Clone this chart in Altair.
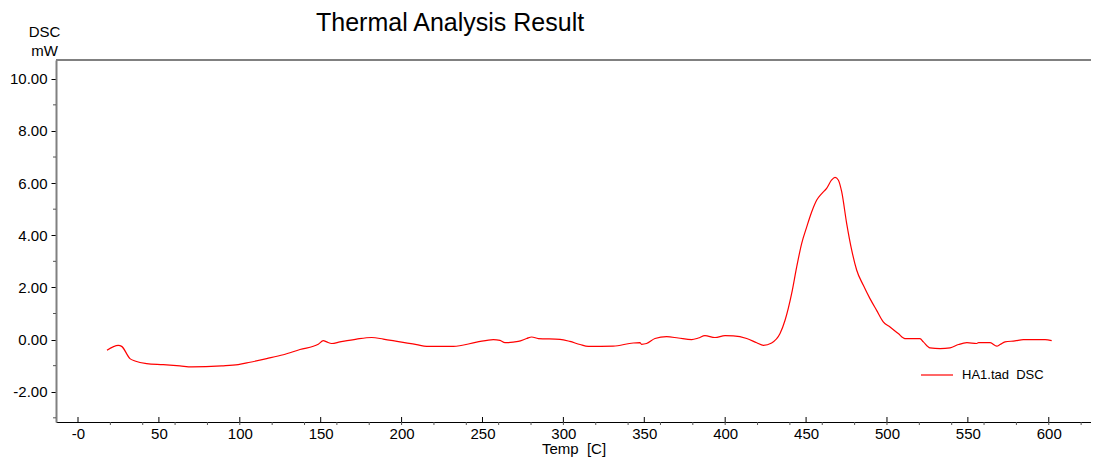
import altair as alt
import pandas as pd

# ---- data ----
temp = [17.9, 24.9, 27.0, 32.1, 35.2, 42.4, 52.7, 63.0, 70.3, 88.8,
        99.0, 106.3, 116.6, 126.9, 137.2, 148.5, 151.6, 153.7, 156.8, 161.9,
        172.2, 181.5, 188.7, 199.0, 209.3, 215.5, 232.0, 246.4, 256.7, 260.8,
        263.9, 272.1, 277.3, 280.4, 284.5, 297.9, 304.0, 310.3, 315.4, 330.8,
        343.2, 347.3, 348.3, 351.4, 356.6, 363.8, 371.0, 379.3, 383.4, 387.5,
        393.7, 399.9, 405.0, 413.3, 419.5, 423.6, 428.7, 433.9, 437.0, 441.1,
        444.2, 447.3, 450.4, 453.5, 456.6, 459.7, 462.7, 465.8, 467.9, 469.9,
        472.0, 475.1, 478.2, 481.3, 485.4, 489.5, 493.6, 497.7, 501.9, 507.0,
        511.1, 517.3, 520.4, 522.5, 526.6, 532.8, 539.0, 544.2, 549.4, 555.5,
        556.6, 563.8, 567.9, 569.9, 573.0, 579.1, 584.3, 597.7, 601.8]
dsc = [-0.41, -0.22, -0.26, -0.73, -0.82, -0.92, -0.96, -1.01, -1.05, -1.01,
       -0.96, -0.87, -0.73, -0.58, -0.38, -0.18, -0.04, -0.09, -0.15, -0.09,
       0.02, 0.08, 0.02, -0.09, -0.19, -0.26, -0.26, -0.10, 0.00, -0.03,
       -0.12, -0.07, 0.04, 0.10, 0.04, 0.01, -0.07, -0.19, -0.26, -0.25,
       -0.13, -0.12, -0.18, -0.15, 0.04, 0.11, 0.06, 0.00, 0.06, 0.15,
       0.08, 0.15, 0.14, 0.04, -0.12, -0.22, -0.13, 0.23, 0.74, 1.77,
       2.79, 3.69, 4.32, 4.90, 5.35, 5.60, 5.80, 6.12, 6.22, 6.12,
       5.67, 4.45, 3.43, 2.66, 2.08, 1.57, 1.12, 0.68, 0.48, 0.23,
       0.04, 0.04, 0.04, -0.09, -0.32, -0.35, -0.32, -0.19, -0.12, -0.15,
       -0.12, -0.12, -0.25, -0.19, -0.09, -0.05, 0.00, 0.00, -0.04]
assert len(temp) == len(dsc)

series_name = ["HA1.tad\u00a0\u00a0DSC"]
chart_title = ["Thermal Analysis Result"]
x_title = "Temp\u00a0\u00a0[C]"
y_title = ["DSC", "mW"]

x_major = [0, 50, 100, 150, 200, 250, 300, 350, 400, 450, 500, 550, 600]
x_minor = [20, 40, 60, 80, 100, 120, 140, 160, 180, 200, 220, 240, 260, 280, 300,
           320, 340, 360, 380, 400, 420, 440, 460, 480, 500, 520, 540, 560, 580, 600, 620]
y_major = [-2, 0, 2, 4, 6, 8, 10]
y_minor = [-3, -1, 1, 3, 5, 7, 9]

x_domain = [-13.6, 626.1]
y_domain = [-3.16, 10.72]

# ---- layout / style ----
W, H = 1035, 362
FONT = "Liberation Sans"

df = pd.DataFrame({"Temp": temp, "DSC": dsc, "series": series_name[0]})
xs = alt.Scale(domain=x_domain, nice=False, zero=False)
ys = alt.Scale(domain=y_domain, nice=False, zero=False)

line = alt.Chart(df).mark_line(strokeWidth=1.2, interpolate="monotone").encode(
    x=alt.X("Temp:Q", scale=xs, axis=alt.Axis(
        values=x_major, title=x_title, grid=False,
        labelExpr="datum.value == 0 ? '-0' : datum.label",
        ticks=False, tickSize=0, domainColor="#000000", domainWidth=1,
        labelPadding=4, labelFontSize=15, labelFont=FONT, labelColor="#000000",
        labelFlush=False, labelOverlap=False,
        titleFont=FONT, titleFontSize=15, titleFontWeight="normal", titleColor="#000000",
        titleBaseline="top", titleY=19)),
    y=alt.Y("DSC:Q", scale=ys, axis=alt.Axis(
        values=y_major, title=y_title, grid=False,
        labelExpr="replace(format(datum.value, '.2f'), '\u2212', '-')",
        tickSize=5, tickColor="#000000", domainColor="#808080", domainWidth=2,
        labelPadding=4, labelFontSize=15, labelFont=FONT, labelColor="#000000",
        labelFlush=False, labelOverlap=False,
        titleFont=FONT, titleFontSize=15, titleFontWeight="normal", titleColor="#000000",
        titleAngle=0, titleAlign="center", titleBaseline="alphabetic",
        titleX=-12, titleY=-24, titleLineHeight=19)),
    color=alt.Color("series:N", scale=alt.Scale(range=["#ff0000"]), legend=alt.Legend(
        title=None, orient="none", legendX=864, legendY=298, padding=0,
        symbolType="stroke", symbolSize=1024, symbolStrokeWidth=1.2,
        labelFont=FONT, labelFontSize=13, labelColor="#000000", labelOffset=8)),
)

xmaj = alt.Chart(pd.DataFrame({"t": x_major})).mark_rule(color="#000000", strokeWidth=1).encode(
    x=alt.X("t:Q", scale=xs, axis=None), y=alt.value(H - 5), y2=alt.value(H))
xmin = alt.Chart(pd.DataFrame({"t": x_minor})).mark_rule(color="#555555", strokeWidth=1).encode(
    x=alt.X("t:Q", scale=xs, axis=None), y=alt.value(H), y2=alt.value(H + 3))
ymin = alt.Chart(pd.DataFrame({"v": y_minor})).mark_rule(color="#555555", strokeWidth=1).encode(
    y=alt.Y("v:Q", scale=ys, axis=None), x=alt.value(-3), x2=alt.value(0))
top_border = alt.Chart(pd.DataFrame({"b": [0]})).mark_rule(color="#808080", strokeWidth=2).encode(
    x=alt.value(0), x2=alt.value(W), y=alt.value(0))
title = alt.Chart(pd.DataFrame({"title": chart_title})).mark_text(
    font=FONT, fontSize=25, align="left", baseline="alphabetic", color="#000000").encode(
    x=alt.value(260), y=alt.value(-29), text="title:N")

chart = alt.layer(top_border, xmaj, xmin, ymin, line, title).resolve_axis(
    x="independent", y="independent"
).properties(
    width=W, height=H,
    padding={"left": 48, "top": 52, "right": 0, "bottom": 36},
    autosize=alt.AutoSizeParams(type="none"),
).configure_view(stroke=None)

chart.save("out.html", embed_options={"renderer": "svg", "actions": False})
